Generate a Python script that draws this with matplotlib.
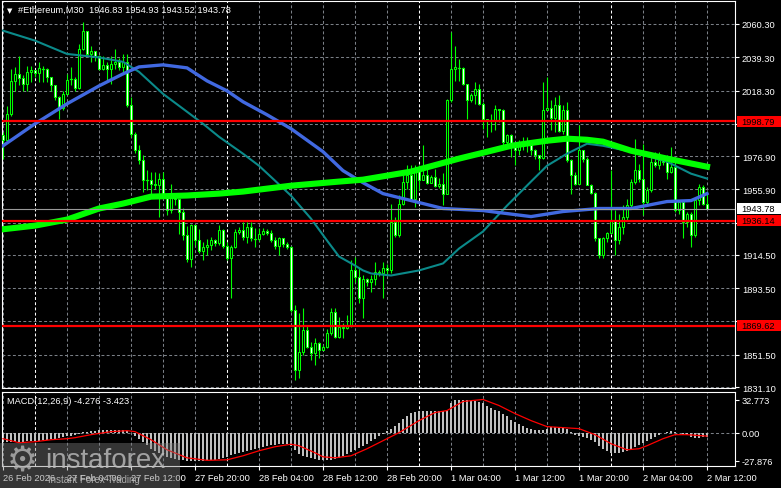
import matplotlib
matplotlib.use("Agg")
import matplotlib.pyplot as plt
from matplotlib.patches import Rectangle
import matplotlib.transforms as mtrans

plt.rcParams['font.family'] = ['Liberation Sans', 'DejaVu Sans']

# ---------------- data ----------------
symbol_title = "#Ethereum,M30  1946.83 1954.93 1943.52 1943.78"
macd_title = "MACD(12,26,9) -4.276 -3.423"

first_open = 1990.0
closes = [1987.0, 2003.6, 2024.6, 2028.8, 2026.1, 2022.5, 2029.9, 2031.3, 2029.4, 2032.4,
          2032.0, 2026.7, 2021.5, 2014.0, 2007.2, 2016.2, 2025.2, 2025.6, 2020.0, 2044.5,
          2055.7, 2041.4, 2043.0, 2040.4, 2032.0, 2034.5, 2032.0, 2035.0, 2036.6, 2033.4,
          2036.0, 2008.9, 1991.0, 1980.5, 1974.2, 1961.6, 1962.0, 1959.5, 1958.5, 1962.7,
          1952.2, 1942.7, 1952.2, 1950.0, 1941.7, 1927.0, 1911.8, 1933.3, 1923.8, 1916.9,
          1919.6, 1920.5, 1923.8, 1922.0, 1930.1, 1920.2, 1912.3, 1919.6, 1929.0, 1930.0,
          1926.0, 1932.2, 1924.9, 1924.5, 1928.0, 1929.6, 1928.6, 1923.8, 1920.2, 1924.9,
          1921.7, 1919.6, 1879.7, 1841.9, 1853.4, 1867.1, 1856.6, 1852.4, 1858.7, 1854.5,
          1856.6, 1865.0, 1878.6, 1862.9, 1869.2, 1868.5, 1870.2, 1904.9, 1900.7, 1887.0,
          1899.6, 1897.5, 1899.6, 1903.9, 1903.0, 1906.4, 1905.0, 1935.4, 1927.0, 1946.9,
          1960.6, 1964.8, 1950.0, 1968.0, 1962.0, 1965.0, 1960.0, 1963.6, 1957.8, 1959.0,
          1953.2, 2012.0, 2032.0, 2033.0, 2032.5, 2022.5, 2012.0, 2015.6, 2019.4, 2009.9,
          2000.0, 1999.0, 1999.4, 2006.8, 2006.0, 1985.8, 1990.4, 1983.7, 1981.0, 1983.4,
          1985.7, 1983.6, 1980.5, 1977.4, 1975.7, 2005.7, 2007.0, 2000.9, 2008.9, 1992.5,
          2005.7, 1974.2, 1964.8, 1959.5, 1980.5, 1975.3, 1958.9, 1953.8, 1924.9, 1914.4,
          1924.9, 1928.6, 1936.4, 1923.8, 1932.2, 1938.5, 1945.9, 1960.6, 1967.9, 1962.7,
          1948.0, 1955.3, 1973.2, 1971.0, 1974.2, 1973.2, 1966.9, 1970.0, 1942.7, 1948.0,
          1935.4, 1940.6, 1927.0, 1949.0, 1957.4, 1946.83, 1943.78]
highs = [1992.0, 2008.8, 2032.0, 2033.0, 2040.4, 2027.8, 2034.0, 2034.0, 2031.5, 2036.6,
         2034.0, 2032.5, 2027.0, 2022.0, 2015.0, 2018.0, 2028.8, 2033.0, 2027.0, 2047.7,
         2061.3, 2056.0, 2046.6, 2043.5, 2041.0, 2040.4, 2036.0, 2040.4, 2044.5, 2039.0,
         2041.4, 2041.4, 2014.0, 1992.0, 1983.6, 1977.4, 1967.9, 1966.9, 1966.9, 1966.0,
         1966.9, 1953.0, 1959.5, 1952.0, 1949.0, 1944.0, 1933.0, 1934.3, 1933.3, 1931.0,
         1922.8, 1924.8, 1925.9, 1924.5, 1933.3, 1931.0, 1922.8, 1921.0, 1931.0, 1932.0,
         1935.3, 1935.4, 1935.0, 1931.2, 1931.6, 1931.6, 1931.0, 1930.0, 1926.0, 1926.0,
         1925.0, 1922.8, 1920.0, 1883.0, 1877.6, 1880.7, 1870.2, 1859.7, 1862.3, 1859.7,
         1857.6, 1868.0, 1880.7, 1880.7, 1875.5, 1871.3, 1876.5, 1911.2, 1913.3, 1906.0,
         1901.7, 1900.0, 1901.7, 1910.0, 1905.0, 1910.0, 1908.5, 1946.9, 1938.5, 1952.2,
         1964.8, 1971.0, 1971.0, 1971.0, 1971.0, 1984.0, 1969.0, 1965.0, 1969.0, 1963.0,
         1966.0, 2013.0, 2055.0, 2046.6, 2038.2, 2033.0, 2022.5, 2016.5, 2023.5, 2022.5,
         2011.0, 2000.5, 2003.6, 2008.9, 2006.8, 2006.8, 1991.0, 1991.0, 1984.7, 1986.8,
         1988.9, 1988.9, 1984.7, 1981.5, 1977.4, 2023.5, 2026.7, 2012.0, 2014.0, 2015.6,
         2008.9, 2011.0, 1975.3, 1966.9, 1996.3, 1980.5, 1976.3, 1959.5, 1954.2, 1925.0,
         1925.9, 1929.0, 1967.9, 1942.7, 1940.6, 1945.9, 1950.0, 1962.7, 1987.9, 1972.1,
         1984.7, 1957.4, 1976.3, 1979.5, 1979.5, 1977.4, 1977.4, 1982.6, 1974.2, 1949.0,
         1943.8, 1941.6, 1941.6, 1950.0, 1959.5, 1958.4, 1954.93]
lows = [1975.3, 1985.7, 2002.0, 2018.3, 2021.5, 2018.3, 2018.0, 2023.5, 2027.0, 2023.5,
        2023.5, 2023.5, 2018.3, 2012.0, 2000.5, 2006.0, 2016.0, 2022.0, 2018.0, 2019.0,
        2044.0, 2040.0, 2036.0, 2037.0, 2031.0, 2031.0, 2024.6, 2022.5, 2032.0, 2031.0,
        2030.0, 2008.0, 1989.0, 1979.0, 1972.0, 1954.2, 1955.3, 1953.2, 1956.3, 1938.5,
        1951.0, 1939.5, 1941.0, 1946.0, 1928.0, 1923.8, 1910.0, 1907.0, 1921.0, 1915.4,
        1911.0, 1914.4, 1917.5, 1920.0, 1921.0, 1918.6, 1911.0, 1887.0, 1919.0, 1928.0,
        1923.8, 1922.0, 1923.0, 1919.6, 1923.5, 1927.0, 1927.0, 1922.5, 1918.5, 1914.4,
        1919.5, 1918.5, 1878.5, 1835.6, 1836.6, 1851.3, 1855.5, 1848.2, 1845.0, 1849.2,
        1854.5, 1855.5, 1864.0, 1861.8, 1861.8, 1861.8, 1868.0, 1869.0, 1897.5, 1884.0,
        1874.4, 1895.0, 1891.3, 1895.5, 1901.0, 1887.0, 1902.0, 1903.0, 1925.9, 1925.9,
        1945.9, 1956.3, 1949.0, 1944.8, 1955.3, 1963.7, 1959.5, 1960.0, 1957.4, 1956.5,
        1945.9, 1953.0, 2011.0, 2024.6, 2024.6, 2021.5, 2000.5, 2011.0, 2009.9, 2008.9,
        1994.2, 1988.9, 1992.0, 1993.1, 1998.4, 1983.7, 1984.7, 1976.3, 1971.0, 1977.4,
        1980.5, 1979.5, 1977.4, 1975.3, 1967.9, 1975.0, 2005.7, 1993.1, 1992.0, 1992.0,
        1991.0, 1973.2, 1953.2, 1958.4, 1959.5, 1973.2, 1958.5, 1953.2, 1923.0, 1912.3,
        1912.3, 1922.7, 1928.6, 1914.4, 1921.7, 1928.0, 1936.4, 1943.8, 1959.5, 1960.6,
        1939.6, 1946.9, 1954.2, 1970.0, 1969.0, 1971.0, 1962.7, 1966.0, 1941.6, 1940.6,
        1924.9, 1932.2, 1919.6, 1925.9, 1945.9, 1946.0, 1943.52]

# moving averages (sampled at candle indices)
ma_fast_idx = [0, 8, 16, 24, 30, 34, 40, 46, 50, 54, 60, 64, 68, 72, 77, 81, 84, 88, 90, 92,
               97, 104, 110, 114, 120, 126, 132, 136, 141, 146, 150, 157, 166, 172, 176]
ma_fast_val = [2056.1, 2049.8, 2041.4, 2039.2, 2036.4, 2030.1, 2016.2, 2004.9, 1997.3, 1989.1,
               1978.4, 1970.8, 1961.4, 1951.9, 1937.4, 1923.6, 1913.5, 1907.8, 1904.7, 1902.8,
               1901.5, 1904.7, 1909.1, 1918.5, 1929.3, 1945.6, 1960.8, 1970.8, 1978.4, 1984.7,
               1983.4, 1979.7, 1973.4, 1965.8, 1962.7]
ma_mid_idx = [0, 8, 16, 24, 30, 34, 40, 46, 51, 56, 60, 66, 72, 80, 85, 90, 95, 103, 110, 120,
              132, 140, 149, 157, 166, 172, 176]
ma_mid_val = [1983.4, 1997.3, 2009.9, 2021.2, 2028.8, 2033.2, 2034.5, 2032.6, 2024.4, 2018.1,
              2011.2, 2003.0, 1994.2, 1979.7, 1967.7, 1960.1, 1953.2, 1948.2, 1943.8, 1942.5,
              1938.7, 1941.9, 1943.8, 1943.8, 1948.2, 1948.8, 1953.2]
ma_slow_idx = [0, 8, 16, 24, 30, 37, 46, 54, 60, 72, 84, 90, 102, 114, 120, 127, 136, 141,
               146, 150, 157, 166, 176]
ma_slow_val = [1930.7, 1933.0, 1936.8, 1943.8, 1946.9, 1951.3, 1952.0, 1953.2, 1954.5, 1958.2,
               1960.8, 1962.0, 1967.1, 1975.3, 1979.0, 1983.4, 1986.6, 1987.9, 1987.2, 1986.0,
               1980.3, 1975.3, 1970.2]

levels = [1998.79, 1936.14, 1869.62]
bid = 1943.78

price_ticks = [2060.30, 2039.30, 2018.30, 1997.30, 1976.90, 1955.90, 1934.90, 1914.50,
               1893.50, 1872.50, 1851.50, 1831.10]
# labels hidden behind the level boxes are left blank
price_labels = ["2060.30", "2039.30", "2018.30", "", "1976.90", "1955.90", "", "1914.50",
                "1893.50", "", "1851.50", "1831.10"]

macd_hist = [-9, -9, -9, -9, -9, -9, -8, -8,
             -8, -8, -7, -7, -6, -6, -5, -4,
             -3, -3, -2, -1, 1, 1, 2, 2,
             3, 3, 3, 3, 3, 3, 3, 2,
             0, -3, -6, -9, -12, -16, -18, -20,
             -22, -24, -25, -26, -27, -27, -27.8, -27.8,
             -27.8, -27.8, -27.8, -27.5, -27, -27, -26, -25,
             -24, -22, -21, -20, -19, -18, -17, -16,
             -15, -14, -13, -12, -12, -11, -11, -11,
             -13, -17, -21, -23, -24, -25, -26, -27,
             -27, -27.5, -27, -26, -25, -23, -21, -19,
             -17, -15, -13, -11, -8, -6, -3, -1,
             2, 4, 7, 10, 14, 17, 20, 21,
             22, 22, 22, 22, 22, 22, 22, 23,
             29, 32, 32.7, 32.7, 32, 31, 31, 30,
             29, 27, 25, 23, 22, 19, 17, 13,
             11, 9, 7, 5, 4, 3, 3, 3,
             4, 6, 6, 6, 6, 4, 1, -2,
             -3, -4, -5, -7, -9, -13, -16, -18,
             -20, -20, -20, -19, -18, -16, -14, -12,
             -10, -8, -6, -4, -2, 0, 1, 2,
             1, 0, -1, -2, -4, -5, -5, -4, -4.276]
signal_idx = [0, 4, 8, 12, 16, 18, 22, 27, 31, 33, 37, 41, 46, 51, 56, 60, 64, 68, 72, 74,
              78, 80, 83, 85, 87, 91, 95, 99, 104, 108, 111, 115, 120, 124, 128, 132, 136,
              140, 144, 148, 152, 156, 159, 161, 165, 168, 171, 176]
signal_val = [-6, -10, -9, -7, -6, -5, -2, 1, 2, 1, -7, -17, -25, -27.5, -27, -23, -18, -14,
              -11.5, -13, -20, -24, -25, -24, -23, -16, -8, 0, 12, 20, 22, 31, 33, 27, 19,
              12, 6, 5, 4, -2, -11, -17, -16, -13, -6, -2, -2, -3.423]

time_idx = [0, 16, 32, 48, 64, 80, 96, 112, 128, 144, 160, 176]
time_labels = ["26 Feb 2026", "27 Feb 04:00", "27 Feb 12:00", "27 Feb 20:00", "28 Feb 04:00",
               "28 Feb 12:00", "28 Feb 20:00", "1 Mar 04:00", "1 Mar 12:00", "1 Mar 20:00",
               "2 Mar 04:00", "2 Mar 12:00"]
day_sep_idx = [8, 56, 104, 152]

# ---------------- figure ----------------
W, H = 781, 489
fig = plt.figure(figsize=(W / 100, H / 100), dpi=100, facecolor='black')

def frac_rect(x0, y0, x1, y1):
    return [x0 / W, 1 - y1 / H, (x1 - x0) / W, (y1 - y0) / H]

ax = fig.add_axes(frac_rect(2, 2, 735, 389))
axm = fig.add_axes(frac_rect(2, 393, 735, 467), sharex=ax)
for a in (ax, axm):
    a.set_facecolor('black')
    for s in a.spines.values():
        s.set_color('white')
        s.set_linewidth(0.8)

GRID = '#7a7f86'
DASH = (0, (2.8, 2.2))
FS = 6.7

n = len(closes)
xmin = -0.25
xmax = xmin + 733 / 4
ax.set_xlim(xmin, xmax)
ax.set_ylim(1830.47, 2074.82)
axm.set_ylim(-33.15, 40.43)

# vertical grid
for k in range(0, n + 1, 8):
    col = 'white' if k in day_sep_idx else GRID
    for a in (ax, axm):
        a.axvline(k, color=col, lw=0.75, ls=DASH, zorder=1)
# horizontal grid
for v in price_ticks:
    ax.axhline(v, color=GRID, lw=0.75, ls=DASH, zorder=1)
axm.axhline(0, color=GRID, lw=0.75, ls=DASH, zorder=1)

# candles
LIME = '#00ff00'
opens = [first_open] + closes[:-1]
for i in range(n):
    o, c = opens[i], closes[i]
    h = max(highs[i], o, c)
    l = min(lows[i], o, c)
    ax.plot([i, i], [l, h], color=LIME, lw=0.8, zorder=2, solid_capstyle='butt')
    lo, hi = min(o, c), max(o, c)
    if hi - lo < 0.6:
        ax.plot([i - 0.3, i + 0.3], [c, c], color=LIME, lw=0.9, zorder=3)
    else:
        fc = 'black' if c >= o else 'white'
        ax.add_patch(Rectangle((i - 0.28, lo), 0.56, hi - lo, facecolor=fc,
                               edgecolor=LIME, lw=0.75, zorder=3))

# moving averages
ax.plot(ma_fast_idx, ma_fast_val, color='#0b8a8a', lw=1.5, zorder=4)
ax.plot(ma_mid_idx, ma_mid_val, color='#4169e1', lw=2.4, zorder=4)
ax.plot(ma_slow_idx, ma_slow_val, color='#00ff00', lw=4.4, zorder=4)

# bid line and levels
ax.axhline(bid, color='#9a9a9a', lw=0.8, zorder=5)
for v in levels:
    ax.axhline(v, color='#ff0000', lw=1.6, zorder=6)

# price axis
ax.yaxis.tick_right()
ax.set_yticks(price_ticks)
ax.set_yticklabels(price_labels)
ax.tick_params(axis='y', colors='white', labelsize=FS, length=3, width=0.8, pad=2)
ax.tick_params(axis='x', bottom=False, labelbottom=False)

# MACD
axm.bar(range(len(macd_hist)), macd_hist, width=0.62, color='#c0c0c0', zorder=2)
axm.plot(signal_idx, signal_val, color='#ff0000', lw=0.9, zorder=3)
axm.yaxis.tick_right()
axm.set_yticks([32.773, 0.0, -27.876])
axm.set_yticklabels(["32.773", "0.00", "-27.876"])
axm.tick_params(axis='y', colors='white', labelsize=FS, length=3, width=0.8, pad=2)
axm.set_xticks(time_idx)
axm.set_xticklabels(time_labels, ha='left')
axm.tick_params(axis='x', colors='white', labelsize=FS, length=3, width=0.8, pad=2)

# level label boxes on right axis
tr = mtrans.blended_transform_factory(fig.transFigure, ax.transData)
px = (2074.82 - 1830.47) / 387.0
box_h = 11 * px
for v, fc in [(levels[0], '#ff0000'), (levels[1], '#ff0000'), (levels[2], '#ff0000'), (bid, 'white')]:
    fig.patches.append(Rectangle((737 / W, v - box_h / 2), 44 / W, box_h, transform=tr,
                                 facecolor=fc, edgecolor='none', zorder=5))
    fig.text(741 / W, v, f"{v:.2f}", transform=tr, color='black', fontsize=FS,
             va='center', ha='left', zorder=6)

# titles
fig.text(9.5 / W, 1 - 11 / H, "\u25bc", color='white', fontsize=5, ha='center', va='center',
         family=['DejaVu Sans'])
fig.text(18 / W, 1 - 10 / H, symbol_title, color='white', fontsize=FS, ha='left', va='center')
fig.text(7 / W, 1 - 402 / H, macd_title, color='white', fontsize=FS, ha='left', va='center')

# watermark
fig.patches.append(Rectangle((0, 0), 180 / W, 45 / H, transform=fig.transFigure,
                             facecolor='#808080', alpha=0.42, edgecolor='none', zorder=7))
fig.text(22 / W, 1 - 462 / H, "\u2699", color='#b4b4b4', alpha=0.8, fontsize=25,
         ha='center', va='center', family=['DejaVu Sans'], zorder=8)
fig.text(45 / W, 1 - 461 / H, "instaforex", color='#bdbdbd', alpha=0.8, fontsize=20,
         ha='left', va='center', zorder=8)
fig.text(48 / W, 1 - 480 / H, "Instant Forex Trading", color='#c8c8c8', alpha=0.8,
         fontsize=7, ha='left', va='center', zorder=8)

fig.savefig("out.png", dpi=100, facecolor='black')
